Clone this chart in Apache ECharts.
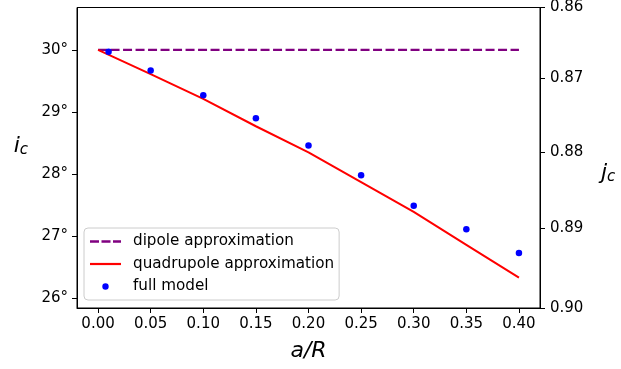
<!DOCTYPE html>
<html>
<head>
<meta charset="utf-8">
<script src="https://cdn.jsdelivr.net/npm/echarts@6/dist/echarts.min.js"></script>
<style>
  html, body { margin: 0; padding: 0; background: #fff; }
  #chart { width: 621px; height: 369px; }
</style>
</head>
<body>
<div id="chart"></div>
<script>
// values
const approxX = [0, 0.05, 0.10, 0.15, 0.20, 0.25, 0.30, 0.35, 0.40];
const dipole = [30, 30, 30, 30, 30, 30, 30, 30, 30];
const quadrupole = [30.00, 29.61, 29.21, 28.77, 28.35, 27.87, 27.39, 26.86, 26.33];
const modelX = [0.01, 0.05, 0.10, 0.15, 0.20, 0.25, 0.30, 0.35, 0.40];
const fullModel = [29.97, 29.67, 29.27, 28.90, 28.46, 27.98, 27.49, 27.11, 26.73];

const xTicks = [0, 0.05, 0.10, 0.15, 0.20, 0.25, 0.30, 0.35, 0.40];
const iTicks = [26, 27, 28, 29, 30];
const jTicks = [0.86, 0.87, 0.88, 0.89, 0.90];

const FONT = 'DejaVu Sans';
const toDeg = (j) => Math.acos(j) * 180 / Math.PI;
// j_c = cos(i_c), so the right axis shares the left range
const yMax = toDeg(jTicks[0]);
const yMin = toDeg(jTicks[jTicks.length - 1]);
const jTickDeg = jTicks.map(toDeg);

const pairs = (xs, ys) => xs.map((x, k) => [x, ys[k]]);

const chart = echarts.init(document.getElementById('chart'), null, { renderer: 'canvas' });

const tickStyle = { show: true, length: 5, lineStyle: { color: '#000', width: 1 } };
const labelStyle = { color: '#000', fontSize: 15, fontFamily: FONT };
const mathRich = {
  i: { fontSize: 22, fontStyle: 'italic', fontFamily: FONT, color: '#000', verticalAlign: 'bottom', lineHeight: 26 },
  s: { fontSize: 15, fontStyle: 'italic', fontFamily: FONT, color: '#000', verticalAlign: 'bottom', lineHeight: 20 }
};

chart.setOption({
  animation: false,
  grid: {
    left: 77, right: 81, top: 7, bottom: 61,
    show: true, borderColor: '#000', borderWidth: 1
  },
  legend: {
    orient: 'vertical',
    left: 84, top: 228,
    padding: [6, 5, 6, 6],
    itemWidth: 38, itemHeight: 14, itemGap: 7.5,
    backgroundColor: 'rgba(255,255,255,0.8)',
    borderColor: '#cccccc', borderWidth: 1, borderRadius: 4,
    textStyle: { color: '#000', fontSize: 15.2, lineHeight: 15, fontFamily: FONT },
    data: [
      { name: 'dipole approximation', icon: 'path://M0,0M38,14M0,5.8h9v2.4h-9zM11.5,5.8h9v2.4h-9zM23,5.8h8v2.4h-8z', itemStyle: { borderWidth: 0 } },
      { name: 'quadrupole approximation', icon: 'path://M0,0M38,14M0,5.9h31v2.2h-31z', itemStyle: { borderWidth: 0 } },
      { name: 'full model', icon: 'path://M0,0M38,14M12.3,7a3.2,3.2 0 1,0 6.4,0a3.2,3.2 0 1,0 -6.4,0z', itemStyle: { borderWidth: 0, opacity: 1 } }
    ]
  },
  xAxis: {
    type: 'value',
    min: -0.02, max: 0.42,
    name: '{t|a/R}',
    nameLocation: 'middle',
    nameGap: 32,
    nameTextStyle: { rich: { t: { fontSize: 22, fontStyle: 'italic', fontFamily: FONT, color: '#000' } } },
    axisLine: { show: true, onZero: false, lineStyle: { color: '#000', width: 1 } },
    axisTick: Object.assign({ customValues: xTicks }, tickStyle),
    axisLabel: Object.assign({ customValues: xTicks, margin: 9, formatter: (v) => v.toFixed(2) }, labelStyle),
    splitLine: { show: false }
  },
  yAxis: [
    {
      type: 'value',
      position: 'left',
      min: yMin, max: yMax,
      name: '{i|i}{s|c}',
      nameLocation: 'middle',
      nameRotate: 0,
      nameGap: 49,
      nameTextStyle: { padding: [0, 0, 26, 0], rich: mathRich },
      axisLine: { show: true, onZero: false, lineStyle: { color: '#000', width: 1 } },
      axisTick: Object.assign({ customValues: iTicks }, tickStyle),
      axisLabel: Object.assign({ customValues: iTicks, margin: 9, formatter: (v) => Math.round(v) + '°' }, labelStyle),
      splitLine: { show: false }
    },
    {
      type: 'value',
      position: 'right',
      min: yMin, max: yMax,
      name: '{i|j}{s|c}',
      nameLocation: 'middle',
      nameRotate: 0,
      nameGap: 61,
      nameTextStyle: { padding: [28, 0, 0, 0], rich: mathRich },
      axisLine: { show: true, onZero: false, lineStyle: { color: '#000', width: 1 } },
      axisTick: Object.assign({ customValues: jTickDeg }, tickStyle),
      axisLabel: Object.assign({ customValues: jTickDeg, margin: 10, formatter: (v) => Math.cos(v * Math.PI / 180).toFixed(2) }, labelStyle),
      splitLine: { show: false }
    }
  ],
  series: [
    {
      name: 'dipole approximation',
      type: 'line',
      data: pairs(approxX, dipole),
      showSymbol: false,
      symbol: 'none',
      color: '#800080',
      itemStyle: { color: '#800080' },
      lineStyle: { color: '#800080', width: 2.2, type: [9, 3.5] },
      z: 2
    },
    {
      name: 'quadrupole approximation',
      type: 'line',
      data: pairs(approxX, quadrupole),
      showSymbol: false,
      symbol: 'none',
      color: '#ff0000',
      itemStyle: { color: '#ff0000' },
      lineStyle: { color: '#ff0000', width: 2 },
      z: 3
    },
    {
      name: 'full model',
      type: 'scatter',
      data: pairs(modelX, fullModel),
      symbolSize: 6.5,
      color: '#0000ff',
      itemStyle: { color: '#0000ff', opacity: 1 },
      z: 4
    }
  ]
});
</script>
</body>
</html>
